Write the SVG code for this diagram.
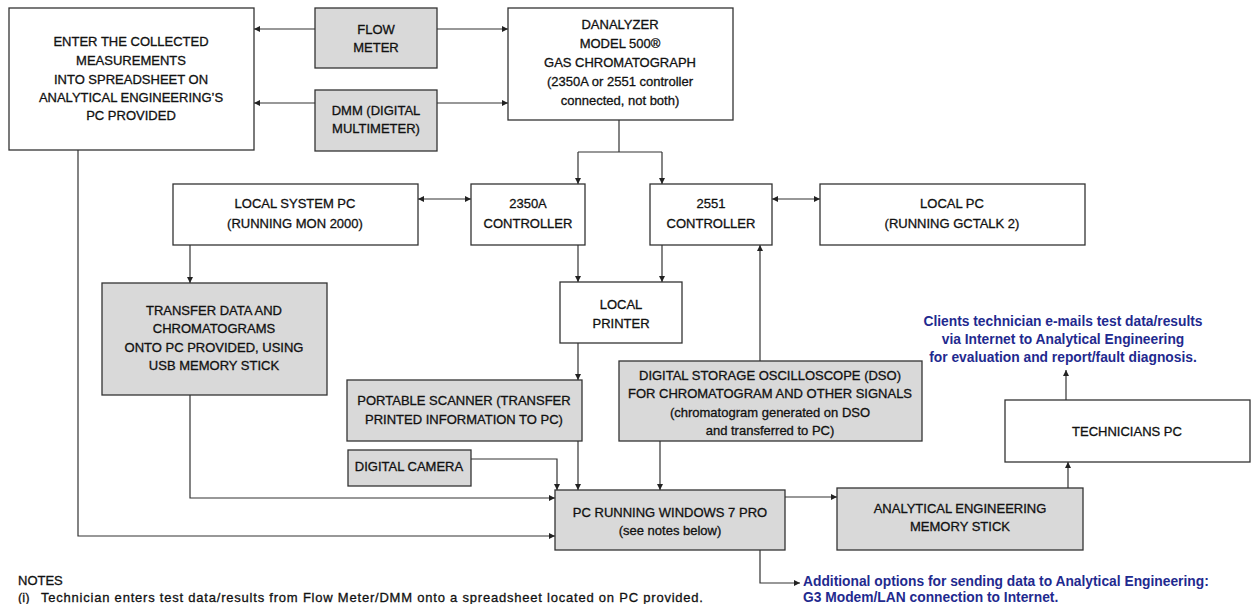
<svg xmlns="http://www.w3.org/2000/svg" width="1254" height="604" viewBox="0 0 1254 604">
<style>
  .box { stroke: #333; stroke-width: 1.3; fill: #ffffff; }
  .grey { fill: #d9d9d9; }
  .t { font-family: "Liberation Sans", Arial, sans-serif; font-size: 13px; fill: #111; stroke: #111; stroke-width: 0.3; text-anchor: middle; }
  .blue { font-family: "Liberation Sans", Arial, sans-serif; font-size: 13.8px; font-weight: bold; fill: #1f2a8f; }
  .note { font-family: "Liberation Sans", Arial, sans-serif; font-size: 13px; fill: #111; stroke: #111; stroke-width: 0.3; }
  .c { fill: none; stroke: #333; stroke-width: 1.2; }
</style>
<defs>
  <marker id="ah" viewBox="0 0 10 10" refX="10" refY="5" markerWidth="8" markerHeight="6" markerUnits="userSpaceOnUse" orient="auto-start-reverse">
    <path d="M0,0 L10,5 L0,10 Z" fill="#222"/>
  </marker>
</defs>
<rect width="1254" height="604" fill="#ffffff"/>

<g id="connectors">
  <path class="c" d="M315,29 H254" marker-end="url(#ah)"/>
  <path class="c" d="M437,29 H508" marker-end="url(#ah)"/>
  <path class="c" d="M315,103 H254" marker-end="url(#ah)"/>
  <path class="c" d="M437,103 H508" marker-end="url(#ah)"/>
  <path class="c" d="M619,120 V152 M578,152 H662"/>
  <path class="c" d="M578,152 V184" marker-end="url(#ah)"/>
  <path class="c" d="M662,152 V184" marker-end="url(#ah)"/>
  <path class="c" d="M418,199 H471" marker-start="url(#ah)" marker-end="url(#ah)"/>
  <path class="c" d="M772,199 H820" marker-start="url(#ah)" marker-end="url(#ah)"/>
  <path class="c" d="M190,245 V283" marker-end="url(#ah)"/>
  <path class="c" d="M578,245 V282" marker-end="url(#ah)"/>
  <path class="c" d="M662,245 V282" marker-end="url(#ah)"/>
  <path class="c" d="M578,343 V380" marker-end="url(#ah)"/>
  <path class="c" d="M760,361 V245" marker-end="url(#ah)"/>
  <path class="c" d="M190,395 V498 H555" marker-end="url(#ah)"/>
  <path class="c" d="M78,150 V536 H555" marker-end="url(#ah)"/>
  <path class="c" d="M471,459 H557 V490" marker-end="url(#ah)"/>
  <path class="c" d="M578,441 V490" marker-end="url(#ah)"/>
  <path class="c" d="M660,441 V490" marker-end="url(#ah)"/>
  <path class="c" d="M785,497 H837" marker-end="url(#ah)"/>
  <path class="c" d="M1068,488 V462" marker-end="url(#ah)"/>
  <path class="c" d="M1066,400 V370" marker-end="url(#ah)"/>
  <path class="c" d="M760,550 V583 H800" marker-end="url(#ah)"/>
</g>

<g id="enter">
  <rect class="box" x="9" y="8" width="245" height="142"/>
  <text class="t" x="131" y="46">ENTER THE COLLECTED</text>
  <text class="t" x="131" y="65">MEASUREMENTS</text>
  <text class="t" x="131" y="84">INTO SPREADSHEET ON</text>
  <text class="t" x="131" y="102">ANALYTICAL ENGINEERING’S</text>
  <text class="t" x="131" y="120">PC PROVIDED</text>
</g>
<g id="flow">
  <rect class="box grey" x="315" y="8" width="122" height="60"/>
  <text class="t" x="376" y="34">FLOW</text>
  <text class="t" x="376" y="52">METER</text>
</g>
<g id="dmm">
  <rect class="box grey" x="315" y="90" width="122" height="61"/>
  <text class="t" x="376" y="115">DMM (DIGITAL</text>
  <text class="t" x="376" y="133">MULTIMETER)</text>
</g>
<g id="danalyzer">
  <rect class="box" x="508" y="8" width="225" height="112"/>
  <text class="t" x="620" y="29">DANALYZER</text>
  <text class="t" x="620" y="48">MODEL 500®</text>
  <text class="t" x="620" y="67">GAS CHROMATOGRAPH</text>
  <text class="t" x="620" y="86">(2350A or 2551 controller</text>
  <text class="t" x="620" y="105">connected, not both)</text>
</g>
<g id="localsys">
  <rect class="box" x="173" y="184" width="245" height="61"/>
  <text class="t" x="295" y="208">LOCAL SYSTEM PC</text>
  <text class="t" x="295" y="228">(RUNNING MON 2000)</text>
</g>
<g id="c2350">
  <rect class="box" x="471" y="184" width="114" height="61"/>
  <text class="t" x="528" y="208">2350A</text>
  <text class="t" x="528" y="228">CONTROLLER</text>
</g>
<g id="c2551">
  <rect class="box" x="650" y="184" width="122" height="61"/>
  <text class="t" x="711" y="208">2551</text>
  <text class="t" x="711" y="228">CONTROLLER</text>
</g>
<g id="localpc">
  <rect class="box" x="820" y="184" width="265" height="61"/>
  <text class="t" x="952" y="208">LOCAL PC</text>
  <text class="t" x="952" y="228">(RUNNING GCTALK 2)</text>
</g>
<g id="transfer">
  <rect class="box grey" x="102" y="283" width="225" height="112"/>
  <text class="t" x="214" y="315">TRANSFER DATA AND</text>
  <text class="t" x="214" y="333">CHROMATOGRAMS</text>
  <text class="t" x="214" y="352">ONTO PC PROVIDED, USING</text>
  <text class="t" x="214" y="370">USB MEMORY STICK</text>
</g>
<g id="printer">
  <rect class="box" x="560" y="282" width="122" height="61"/>
  <text class="t" x="621" y="309">LOCAL</text>
  <text class="t" x="621" y="328">PRINTER</text>
</g>
<g id="scanner">
  <rect class="box grey" x="347" y="380" width="235" height="61"/>
  <text class="t" x="464" y="405">PORTABLE SCANNER (TRANSFER</text>
  <text class="t" x="464" y="424">PRINTED INFORMATION TO PC)</text>
</g>
<g id="dso">
  <rect class="box grey" x="619" y="361" width="303" height="80"/>
  <text class="t" x="770" y="380">DIGITAL STORAGE OSCILLOSCOPE (DSO)</text>
  <text class="t" x="770" y="398">FOR CHROMATOGRAM AND OTHER SIGNALS</text>
  <text class="t" x="770" y="417">(chromatogram generated on DSO</text>
  <text class="t" x="770" y="435">and transferred to PC)</text>
</g>
<g id="camera">
  <rect class="box grey" x="348" y="450" width="123" height="36"/>
  <text class="t" x="409" y="471">DIGITAL CAMERA</text>
</g>
<g id="pcwin">
  <rect class="box grey" x="555" y="490" width="230" height="60"/>
  <text class="t" x="670" y="517">PC RUNNING WINDOWS 7 PRO</text>
  <text class="t" x="670" y="535">(see notes below)</text>
</g>
<g id="aestick">
  <rect class="box grey" x="837" y="488" width="246" height="62"/>
  <text class="t" x="960" y="513">ANALYTICAL ENGINEERING</text>
  <text class="t" x="960" y="531">MEMORY STICK</text>
</g>
<g id="techpc">
  <rect class="box" x="1005" y="400" width="245" height="62"/>
  <text class="t" x="1127" y="436">TECHNICIANS PC</text>
</g>
<g id="emailnote">
  <text class="blue" x="1063" y="326" text-anchor="middle">Clients technician e-mails test data/results</text>
  <text class="blue" x="1063" y="344" text-anchor="middle">via Internet to Analytical Engineering</text>
  <text class="blue" x="1063" y="362" text-anchor="middle">for evaluation and report/fault diagnosis.</text>
</g>
<g id="options">
  <text class="blue" x="803" y="586">Additional options for sending data to Analytical Engineering:</text>
  <text class="blue" x="803" y="602">G3 Modem/LAN connection to Internet.</text>
</g>
<g id="notes">
  <text class="note" x="18" y="585">NOTES</text>
  <text class="note" x="18" y="602">(i)</text>
  <text class="note" x="41" y="602" textLength="662" lengthAdjust="spacing">Technician enters test data/results from Flow Meter/DMM onto a spreadsheet located on PC provided.</text>
</g>
</svg>
